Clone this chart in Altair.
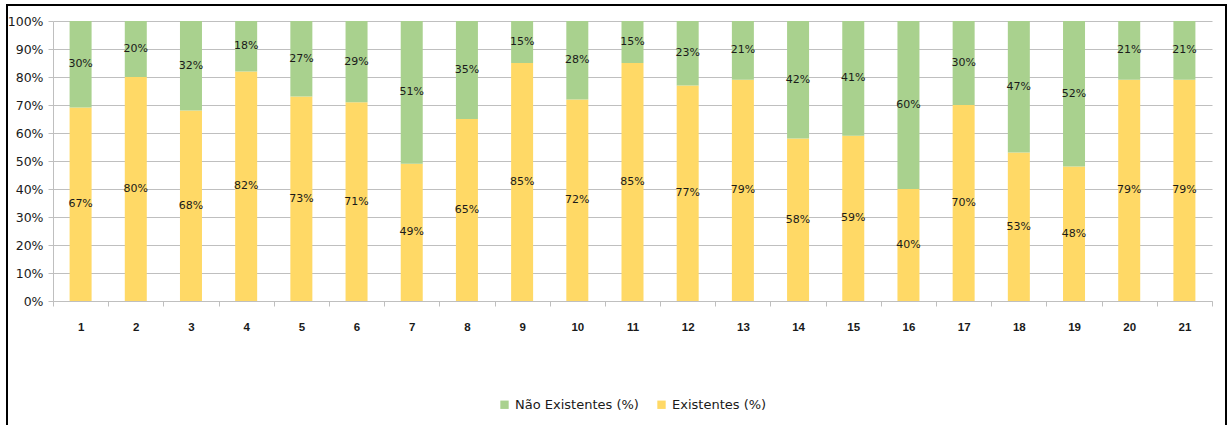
import altair as alt
import pandas as pd

# Categories along the x axis
categorias = [str(i) for i in range(1, 22)]

# Share of each category (%), as printed on the bars
existentes = [67, 80, 68, 82, 73, 71, 49, 65, 85, 72, 85, 77, 79, 58, 59, 40, 70, 53, 48, 79, 79]
nao_existentes = [30, 20, 32, 18, 27, 29, 51, 35, 15, 28, 15, 23, 21, 42, 41, 60, 30, 47, 52, 21, 21]

# Y axis tick positions (fractions of the stacked total)
y_ticks = [0.0, 0.1, 0.2, 0.3, 0.4, 0.5, 0.6, 0.7, 0.8, 0.9, 1.0]

serie_exist = "Existentes (%)"
serie_nao = "Não Existentes (%)"

verde = "#a9d18e"
amarelo = "#ffd966"
cinza = "#bfbfbf"

rows = []
for cat, e, n in zip(categorias, existentes, nao_existentes):
    rows.append({"cat": cat, "serie": serie_exist, "valor": e, "ordem": 0})
    rows.append({"cat": cat, "serie": serie_nao, "valor": n, "ordem": 1})
df = pd.DataFrame(rows)

W, H = 1159, 280
PAD_L, PAD_T = 53, 21

base = (
    alt.Chart(df)
    .transform_stack(
        stack="valor",
        groupby=["cat"],
        sort=[alt.SortField("ordem", order="ascending")],
        as_=["y0", "y1"],
        offset="normalize",
    )
    .transform_calculate(mid="(datum.y0 + datum.y1) / 2", rotulo='datum.valor + "%"')
)

x_axis = alt.Axis(
    title=None,
    labelAngle=0,
    labelFont="Liberation Sans",
    labelFontSize=11.5,
    labelFontWeight="bold",
    labelColor="#1a1a1a",
    labelPadding=15,
    tickBand="extent",
    tickSize=5,
    tickColor=cinza,
    domainColor=cinza,
    grid=False,
)
x_scale = alt.Scale(paddingInner=0, paddingOuter=0)

y_axis = alt.Axis(
    title=None,
    values=y_ticks,
    format=".0%",
    labelOverlap=False,
    labelFont="DejaVu Sans",
    labelFontSize=12.5,
    labelColor="#1a1a1a",
    labelPadding=5,
    tickSize=5,
    tickColor=cinza,
    domainColor=cinza,
    grid=True,
    gridColor=cinza,
)
y_scale = alt.Scale(domain=[0, 1], nice=False)

bars = base.mark_bar(size=22).encode(
    x=alt.X("cat:N", sort=categorias, scale=x_scale, axis=x_axis),
    y=alt.Y("y0:Q", scale=y_scale, axis=y_axis),
    y2="y1:Q",
    color=alt.Color(
        "serie:N",
        scale=alt.Scale(domain=[serie_nao, serie_exist], range=[verde, amarelo]),
        legend=alt.Legend(
            title=None,
            orient="none",
            direction="horizontal",
            legendX=445,
            legendY=377,
            symbolType="square",
            symbolSize=70,
            symbolStrokeWidth=0,
            labelFont="DejaVu Sans",
            labelFontSize=13,
            labelColor="#1a1a1a",
            labelOffset=4,
            columnPadding=16,
            padding=0,
        ),
    ),
)

texts = base.mark_text(font="DejaVu Sans", fontSize=11, color="#1a1a1a").encode(
    x=alt.X("cat:N", sort=categorias, scale=x_scale, axis=x_axis),
    y=alt.Y("mid:Q", scale=y_scale, axis=y_axis),
    text="rotulo:N",
)

# Frame around the whole figure
frame = (
    alt.Chart(pd.DataFrame({"a": [0]}))
    .mark_rect(fill="transparent", stroke="black", strokeWidth=2)
    .encode(
        x=alt.value(7 - PAD_L),
        x2=alt.value(1226 - PAD_L),
        y=alt.value(5 - PAD_T),
        y2=alt.value(440 - PAD_T),
    )
)

chart = (
    alt.layer(bars, texts, frame)
    .properties(
        width=W,
        height=H,
        autosize=alt.AutoSizeParams(type="none"),
        padding={"left": PAD_L, "top": PAD_T, "right": 1230 - PAD_L - W, "bottom": 425 - PAD_T - H},
        background="white",
    )
    .configure_view(stroke=None)
)

chart.save("out.html", embed_options={"renderer": "svg", "actions": False})
